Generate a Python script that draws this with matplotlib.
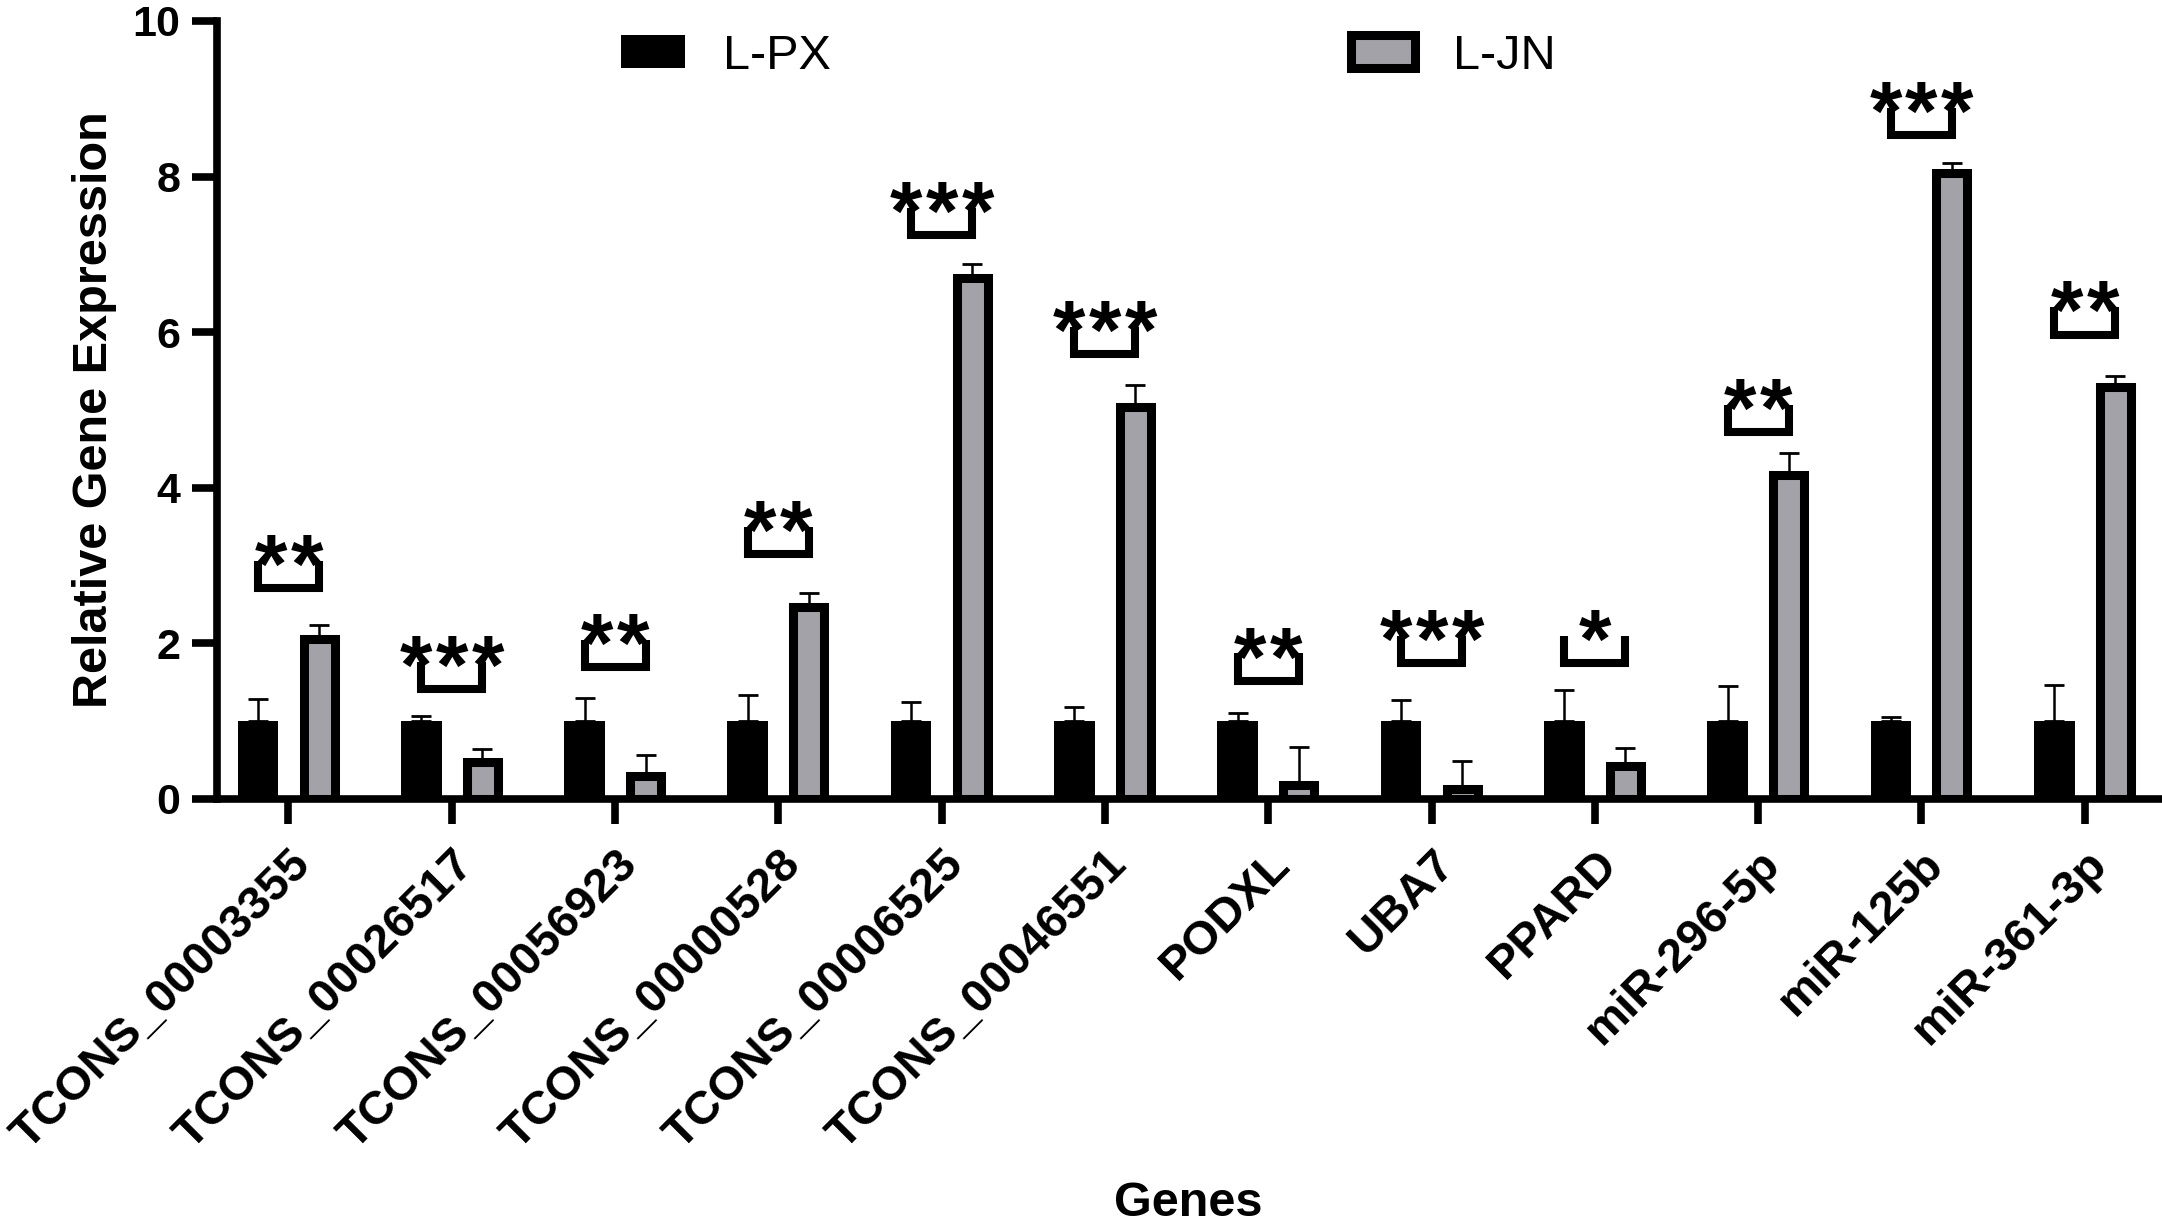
import numpy as np
import matplotlib
matplotlib.use("Agg")
import matplotlib.pyplot as plt

plt.rcParams['font.family'] = ['Liberation Sans', 'DejaVu Sans']

# data
genes = ['TCONS_00003355', 'TCONS_00026517', 'TCONS_00056923', 'TCONS_00000528',
         'TCONS_00006525', 'TCONS_00046551', 'PODXL', 'UBA7', 'PPARD',
         'miR-296-5p', 'miR-125b', 'miR-361-3p']
px_mean = [1.0, 1.0, 1.0, 1.0, 1.0, 1.0, 1.0, 1.0, 1.0, 1.0, 1.0, 1.0]
px_err = [0.28, 0.07, 0.30, 0.34, 0.25, 0.18, 0.11, 0.27, 0.40, 0.45, 0.05, 0.46]
jn_mean = [2.05, 0.48, 0.29, 2.47, 6.69, 5.04, 0.18, 0.13, 0.43, 4.16, 8.04, 5.29]
jn_err = [0.18, 0.16, 0.27, 0.18, 0.19, 0.28, 0.49, 0.36, 0.23, 0.29, 0.13, 0.15]
stars = ['**', '***', '**', '**', '***', '***', '**', '***', '*', '**', '***', '**']
bracket_y = [2.71, 1.41, 1.69, 3.15, 7.25, 5.72, 1.52, 1.75, 1.75, 4.72, 8.53, 5.97]

GRAY = '#A3A2A8'
x = np.arange(len(genes))
off = 0.187

fig = plt.figure(figsize=(21.62, 12.26), dpi=100)
ax = fig.add_axes([0.1002, 0.3483, 0.8988, 0.6346])

ax.errorbar(x - off, px_mean, yerr=[np.zeros(len(x)), px_err], fmt='none',
            ecolor='black', elinewidth=1.8, capsize=7, capthick=2, zorder=1)
ax.errorbar(x + off, jn_mean, yerr=[np.zeros(len(x)), jn_err], fmt='none',
            ecolor='black', elinewidth=1.8, capsize=7, capthick=2, zorder=1)

ax.bar(x - off, px_mean, width=0.249, color='black', linewidth=0,
       label='L-PX', zorder=2)
ax.bar(x + off, jn_mean, width=0.19, color=GRAY, edgecolor='black',
       linewidth=6.5, label='L-JN', zorder=2)

# significance brackets
bh = 0.35
sp = 0.22
for i, (s, yb) in enumerate(zip(stars, bracket_y)):
    x0, x1 = i - off, i + off
    ax.plot([x0, x0, x1, x1], [yb + bh, yb, yb, yb + bh], color='black',
            lw=5.8, solid_joinstyle='miter', solid_capstyle='butt',
            clip_on=False, zorder=3)
    n = len(s)
    for k in range(n):
        xs = i + (k - (n - 1) / 2) * sp
        ax.annotate('*', (xs, yb + bh), xytext=(0, -23),
                    textcoords='offset points', ha='center', va='baseline',
                    fontsize=60, fontweight='bold', annotation_clip=False)

ax.set_xlim(-0.44, 11.46)
ax.set_ylim(0, 10)
ax.set_yticks([0, 2, 4, 6, 8, 10])
ax.set_xticks(x)
ax.set_xticklabels(genes, rotation=45, ha='right', va='top',
                   rotation_mode='anchor', fontsize=34, fontweight='bold')
for lab in ax.get_yticklabels():
    lab.set_fontsize(31)
    lab.set_fontweight('bold')

for side in ['top', 'right']:
    ax.spines[side].set_visible(False)
for side in ['left', 'bottom']:
    ax.spines[side].set_linewidth(5.5)
ax.tick_params(axis='both', direction='out', length=18, width=5.5)
ax.tick_params(axis='x', pad=13)
ax.tick_params(axis='y', pad=8)

ax.set_ylabel('Relative Gene Expression', fontsize=35, fontweight='bold')
ax.yaxis.set_label_coords(-0.0513, 0.5)
ax.set_xlabel('Genes', fontsize=35, fontweight='bold')
ax.xaxis.set_label_coords(0.5, -0.491)

ax.legend(loc='center left', bbox_to_anchor=(0.2872, 0.954),
          bbox_transform=fig.transFigure, ncol=2, frameon=False,
          fontsize=35, handlelength=1.32, handleheight=0.66,
          handletextpad=0.78, columnspacing=10.7, borderpad=0,
          borderaxespad=0)

fig.savefig('out.png', dpi=100)
